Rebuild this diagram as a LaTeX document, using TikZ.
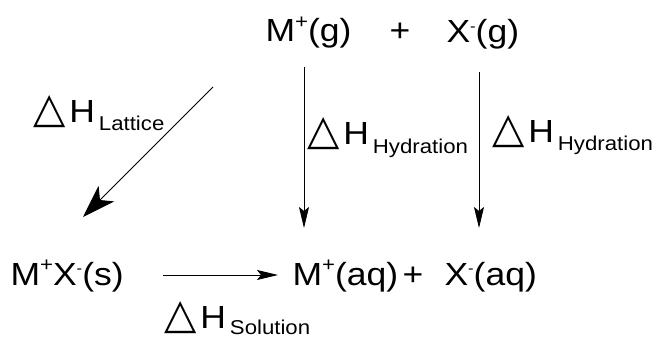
\documentclass[tikz,border=0pt]{standalone}
\usepackage{fontspec}
\setmainfont[FakeStretch=1.11]{Liberation Sans}
\newfontfamily\trifont{DejaVu Sans}
\usetikzlibrary{arrows.meta}
\newcommand{\supp}[1]{\raisebox{13.5pt}{\fontsize{20}{20}\selectfont #1}}
\newcommand{\supm}{\raisebox{11.5pt}{\fontsize{15}{15}\selectfont -}}
\newcommand{\dH}[2][8pt]{{\trifont\fontsize{42}{42}\selectfont △}\hspace{4pt}H\hspace{4pt}\raisebox{-#1}{\fontsize{20}{20}\selectfont #2}}
\begin{document}
\begin{tikzpicture}[x=1pt,y=1pt,
  every node/.style={inner sep=0pt,outer sep=0pt,font=\fontsize{32}{32}\selectfont},
  thinarrow/.style={line width=0.8pt,-{Stealth[length=21pt,width=10pt,inset=4pt]}},
  bigarrow/.style={line width=0.9pt,-{Stealth[length=33pt,width=22pt,inset=9pt]}}]
\useasboundingbox (0,0) rectangle (655,340);
% top row
\node[anchor=base west] (Mg) at (265.5,298) {M\supp{+}(g)};
\node[anchor=base] (plus1) at (400,298) {+};
\node[anchor=base west] (Xg) at (446.5,297) {X\supm(g)};
% bottom row
\node[anchor=base west] (Ms) at (10.5,55) {M\supp{+}X\supm(s)};
\node[anchor=base west] (Maq) at (292.5,55) {M\supp{+}(aq)};
\node[anchor=base] (plus2) at (413,55) {+};
\node[anchor=base west] (Xaq) at (444.5,55) {X\supm(aq)};
% labels
\node[anchor=base west] (lLat) at (33,217) {\dH[8pt]{Lattice}};
\node[anchor=base west] (lHyd1) at (307,195) {\dH[9pt]{Hydration}};
\node[anchor=base west] (lHyd2) at (492,197) {\dH[8pt]{Hydration}};
\node[anchor=base west] (lSol) at (164,12) {\dH[6pt]{Solution}};
% arrow ends
\coordinate (latS) at (213,253);
\coordinate (latE) at (83,123);
\coordinate (v1S) at (304,273);
\coordinate (v1E) at (304,112);
\coordinate (v2S) at (479,268);
\coordinate (v2E) at (479,112);
\coordinate (solS) at (163,65);
\coordinate (solE) at (278,65);
\draw[bigarrow] (latS) -- (latE);
\draw[thinarrow] (v1S) -- (v1E);
\draw[thinarrow] (v2S) -- (v2E);
\draw[thinarrow] (solS) -- (solE);
\end{tikzpicture}
\end{document}
